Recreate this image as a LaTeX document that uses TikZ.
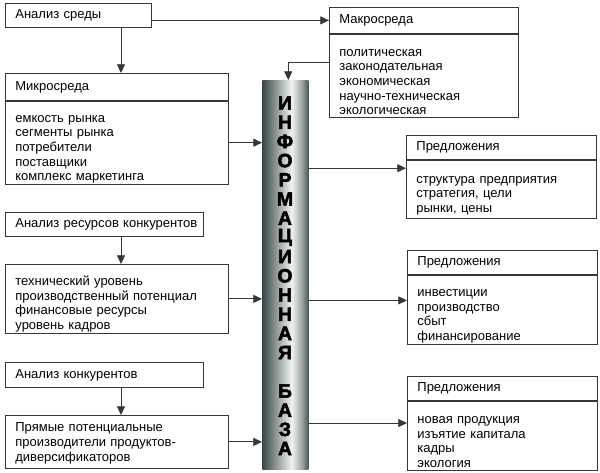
\documentclass[tikz,border=0pt]{standalone}
\usepackage{fontspec}
\setmainfont{Liberation Sans}
\newfontfamily\barfont{Liberation Sans}[BoldFeatures={FakeBold=2.5}]
\usetikzlibrary{arrows.meta}
\definecolor{boxline}{RGB}{55,55,55}
\definecolor{barL}{RGB}{58,70,70}
\definecolor{barR}{RGB}{76,88,88}
\definecolor{barM}{RGB}{238,242,242}
\pgfdeclarehorizontalshading{barshade}{100bp}{color(0bp)=(barL); color(25bp)=(barL); color(42bp)=(barL!50!white); color(57bp)=(barM); color(68bp)=(barR!55!white); color(75bp)=(barR); color(100bp)=(barR)}
\tikzset{
  box/.style={draw=boxline, line width=0.6pt, anchor=north west, inner xsep=7.5pt, inner ysep=0pt, align=left, font=\fontsize{9.75}{11}\selectfont},
  body/.style={box, execute at begin node={\rule{0pt}{15pt}}},
  arr/.style={draw=boxline, line width=0.6pt, -{Triangle[length=6.5pt,width=6pt]}},
  letter/.style={font=\barfont\bfseries\fontsize{14.5}{14.5}\selectfont, inner sep=0pt}
}
\begin{document}
\begin{tikzpicture}[x=0.75pt,y=0.75pt,yscale=-1,xscale=1]
            \useasboundingbox (0,0) rectangle (600,473);
            \coordinate (drop) at (121,0);
            \node[box, text width=94.5pt, minimum height=18pt] (sreda) at (5,3) {Анализ среды};
            \node[box, text width=152.25pt, minimum height=20.25pt] (mikro) at (5,73) {Микросреда};
            \node[body, text width=152.25pt, minimum height=62.25pt] (mikrob) at (mikro.south west) {емкость рынка\\сегменты рынка\\потребители\\поставщики\\комплекс маркетинга};
            \node[box, text width=126.75pt, minimum height=19.5pt] (makro) at (329,7) {Макросреда};
            \node[body, text width=126.75pt, minimum height=62.25pt] (makrob) at (makro.south west) {политическая\\законодательная\\экономическая\\научно-техническая\\экологическая};
            \node[box, text width=133.5pt, minimum height=18pt] (res) at (5,212) {\mbox{Анализ ресурсов конкурентов}};
            \node[body, text width=152.25pt, minimum height=51.75pt] (resb) at (5,264) {технический уровень\\производственный потенциал\\финансовые ресурсы\\уровень кадров};
            \node[box, text width=133.5pt, minimum height=18.75pt] (konk) at (5,362) {Анализ конкурентов};
            \node[box, text width=152.25pt, minimum height=39.75pt] (konkb) at (5,415) {\rule{0pt}{9pt}Прямые потенциальные\\производители продуктов-\\диверсификаторов};
            \node[box, text width=127.5pt, minimum height=18pt] (pred1) at (406,135) {Предложения};
            \node[body, text width=127.5pt, minimum height=43.5pt] (pred1b) at (pred1.south west) {структура предприятия\\стратегия, цели\\рынки, цены};
            \node[box, text width=127.5pt, minimum height=18pt] (pred2) at (407,250) {Предложения};
            \node[body, text width=127.5pt, minimum height=51.75pt] (pred2b) at (pred2.south west) {инвестиции\\производство\\сбыт\\финансирование};
            \node[box, text width=127.5pt, minimum height=18pt] (pred3) at (407,376) {Предложения};
            \node[body, text width=127.5pt, minimum height=51.75pt] (pred3b) at (pred3.south west) {новая продукция\\изъятие капитала\\кадры\\экология};
            \node[anchor=north west, minimum width=34.5pt, minimum height=291.75pt, inner sep=0pt, shading=barshade] (bar) at (262,80) {};
            \foreach \l [count=\i from 0] in {И,Н,Ф,О,Р,М,А,Ц,И,О,Н,Н,А,Я,{},Б,А,З,А}
                \node[letter] (let\i) at (285,{103+19.2*\i}) {\l};
            \coordinate (p1in) at ([yshift=-15.75pt]pred1b.west);
            \coordinate (p2in) at ([yshift=-7pt]pred2b.west);
            \coordinate (p3in) at ([yshift=-9.5pt]pred3b.west);
            \draw[arr] (makro.west -| sreda.east) -- (makro.west);
            \draw[arr] (sreda.south -| drop) -- (mikro.north -| drop);
            \draw[arr] (res.south -| drop) -- (resb.north -| drop);
            \draw[arr] (konk.south -| drop) -- (konkb.north -| drop);
            \draw[arr] ([yshift=-10pt]makrob.west) -| ([xshift=2.25pt]bar.north);
            \draw[arr] (mikrob.east) -- (mikrob.east -| bar.west);
            \draw[arr] (resb.east) -- (resb.east -| bar.west);
            \draw[arr] (konkb.east) -- (konkb.east -| bar.west);
            \draw[arr] (p1in -| bar.east) -- (p1in);
            \draw[arr] (p2in -| bar.east) -- (p2in);
            \draw[arr] (p3in -| bar.east) -- (p3in);
        \end{tikzpicture}
\end{document}
